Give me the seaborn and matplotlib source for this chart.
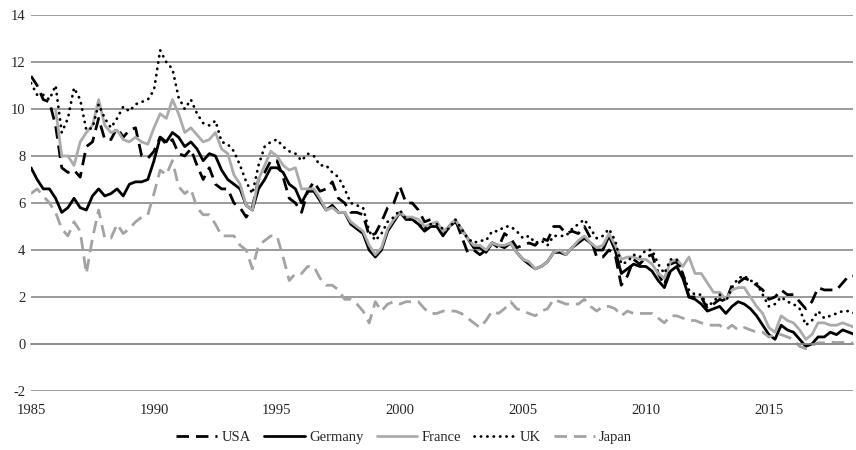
import numpy as np
import pandas as pd
import matplotlib
matplotlib.use("Agg")
import matplotlib.pyplot as plt
import seaborn as sns

# quarterly readings, 1985.0 .. 2018.5
years = np.arange(1985, 2018.51, 0.25)

usa = [11.4, 11.0, 10.4, 10.3,  9.3, 7.5, 7.3, 7.4,  7.1, 8.4, 8.6, 9.6,  8.7, 8.7, 9.2, 8.8,
       9.1, 9.2, 8.0, 7.9,  8.2, 8.8, 8.5, 8.7,  8.1, 8.0, 8.3, 7.6,  7.0, 7.5, 6.8, 6.6,
       6.6, 6.0, 5.8, 5.4,  5.8, 7.0, 7.3, 7.8,  7.8, 7.1, 6.2, 6.0,  5.6, 6.5, 6.9, 6.5,
       6.6, 6.9, 6.2, 6.0,  5.6, 5.6, 5.5, 4.6,  4.7, 5.2, 5.8, 6.0,  6.7, 6.0, 6.0, 5.7,
       5.2, 5.3, 5.2, 4.6,  5.0, 5.3, 4.6, 3.9,  4.0, 3.8, 4.0, 4.3,  4.1, 4.7, 4.5, 4.1,
       4.2, 4.3, 4.2, 4.5,  4.4, 5.0, 5.0, 4.7,  4.8, 4.7, 5.0, 4.5,  3.7, 3.7, 4.0, 3.8,
       2.5, 2.9, 3.6, 3.4,  3.7, 3.8, 3.0, 2.5,  3.4, 3.5, 3.0, 2.0,  2.0, 2.0, 1.5, 1.7,
       1.9, 1.8, 2.5, 2.6,  2.8, 2.7, 2.5, 2.3,  1.9, 2.0, 2.3, 2.1,  2.1, 1.8, 1.5, 1.8,
       2.4, 2.3, 2.3, 2.3,  2.6, 2.9, 2.9]

germany = [7.5, 7.0, 6.6, 6.6,  6.2, 5.6, 5.8, 6.2,  5.8, 5.7, 6.3, 6.6,  6.3, 6.4, 6.6, 6.3,
           6.8, 6.9, 6.9, 7.0,  7.8, 8.8, 8.6, 9.0,  8.8, 8.4, 8.6, 8.3,  7.8, 8.1, 8.0, 7.4,
           7.0, 6.8, 6.6, 5.9,  5.7, 6.6, 7.0, 7.5,  7.5, 7.3, 6.8, 6.6,  6.0, 6.5, 6.5, 6.1,
           5.7, 5.9, 5.6, 5.6,  5.1, 4.9, 4.7, 4.0,  3.7, 4.0, 4.8, 5.2,  5.6, 5.3, 5.3, 5.1,
           4.8, 5.0, 5.0, 4.6,  5.0, 5.2, 4.9, 4.5,  4.1, 4.1, 3.9, 4.3,  4.2, 4.1, 4.3, 3.9,
           3.6, 3.4, 3.2, 3.3,  3.5, 3.9, 3.9, 3.8,  4.1, 4.3, 4.5, 4.3,  4.0, 4.0, 4.6, 4.0,
           3.0, 3.2, 3.4, 3.3,  3.3, 3.1, 2.7, 2.4,  3.1, 3.3, 2.8, 2.0,  1.9, 1.7, 1.4, 1.5,
           1.6, 1.3, 1.6, 1.8,  1.7, 1.5, 1.2, 0.8,  0.4, 0.2, 0.8, 0.6,  0.5, 0.2, -0.1, 0.0,
           0.3, 0.3, 0.5, 0.4,  0.6, 0.5, 0.4]

france = [np.nan, np.nan, np.nan, np.nan,  10.0, 8.0, 8.0, 7.6,  8.6, 9.0, 9.3, 10.4,  9.3, 9.0, 9.1, 8.7,
          8.6, 8.8, 8.6, 8.5,  9.2, 9.8, 9.6, 10.4,  9.8, 9.0, 9.2, 8.9,  8.6, 8.7, 9.0, 8.3,
          8.1, 7.2, 6.8, 5.9,  5.7, 7.0, 7.6, 8.2,  8.0, 7.6, 7.4, 7.5,  6.6, 6.6, 6.6, 6.2,
          5.7, 5.8, 5.6, 5.6,  5.2, 5.0, 4.8, 4.2,  3.8, 4.1, 4.9, 5.3,  5.6, 5.4, 5.4, 5.3,
          5.0, 5.1, 5.2, 4.8,  5.0, 5.3, 4.9, 4.5,  4.2, 4.2, 4.0, 4.3,  4.2, 4.2, 4.3, 3.9,
          3.6, 3.5, 3.2, 3.3,  3.5, 3.9, 4.0, 3.8,  4.1, 4.4, 4.6, 4.3,  4.1, 4.2, 4.7, 4.2,
          3.6, 3.7, 3.7, 3.6,  3.6, 3.4, 3.0, 2.8,  3.5, 3.6, 3.3, 3.7,  3.0, 3.0, 2.6, 2.2,
          2.2, 1.9, 2.3, 2.4,  2.4, 2.0, 1.6, 1.3,  0.7, 0.5, 1.2, 1.0,  0.9, 0.6, 0.2, 0.4,
          0.9, 0.9, 0.8, 0.8,  0.9, 0.8, 0.7]

uk = [11.1, 10.6, 10.6, 10.4,  11.0, 9.0, 9.6, 10.9,  10.4, 9.1, 9.2, 10.2,  9.6, 9.2, 9.6, 10.1,
      9.9, 10.2, 10.3, 10.4,  10.8, 12.5, 12.0, 11.7,  10.5, 10.0, 10.4, 9.8,  9.4, 9.3, 9.5, 8.6,
      8.5, 8.2, 7.6, 6.9,  6.4, 7.6, 8.4, 8.6,  8.7, 8.4, 8.2, 8.1,  7.8, 8.1, 8.0, 7.6,
      7.6, 7.3, 7.1, 6.6,  6.0, 5.9, 5.8, 4.8,  4.4, 4.7, 5.2, 5.4,  5.7, 5.3, 5.3, 5.1,
      4.9, 5.1, 5.1, 4.9,  4.9, 5.3, 4.9, 4.5,  4.3, 4.4, 4.4, 4.8,  4.8, 5.0, 5.0, 4.8,
      4.5, 4.6, 4.3, 4.4,  4.2, 4.6, 4.6, 4.6,  4.9, 5.1, 5.3, 4.9,  4.5, 4.6, 4.9, 4.4,
      3.4, 3.5, 3.8, 3.7,  4.0, 4.0, 3.4, 3.0,  3.6, 3.6, 3.0, 2.3,  2.1, 2.1, 1.6, 1.8,
      2.1, 1.8, 2.4, 2.8,  2.9, 2.7, 2.6, 2.1,  1.6, 1.7, 2.0, 1.8,  1.7, 1.5, 0.8, 1.0,
      1.4, 1.1, 1.2, 1.3,  1.4, 1.4, 1.3]

japan = [6.4, 6.6, 6.3, 6.0,  5.6, 4.9, 4.6, 5.2,  4.8, 3.0, 4.5, 5.7,  4.5, 4.5, 5.1, 4.7,
         4.9, 5.2, 5.4, 5.5,  6.4, 7.4, 7.2, 7.8,  6.7, 6.4, 6.6, 5.8,  5.5, 5.5, 5.1, 4.6,
         4.6, 4.6, 4.2, 4.0,  3.2, 4.2, 4.4, 4.6,  4.6, 3.7, 2.7, 3.0,  3.0, 3.3, 3.3, 2.8,
         2.5, 2.5, 2.3, 1.9,  1.9, 1.7, 1.4, 0.9,  1.8, 1.4, 1.7, 1.8,  1.7, 1.8, 1.8, 1.8,
         1.5, 1.3, 1.3, 1.4,  1.4, 1.4, 1.3, 1.1,  0.9, 0.7, 1.0, 1.4,  1.3, 1.5, 1.8, 1.5,
         1.4, 1.3, 1.2, 1.4,  1.5, 1.9, 1.8, 1.7,  1.7, 1.7, 1.9, 1.6,  1.4, 1.6, 1.6, 1.5,
         1.2, 1.4, 1.3, 1.3,  1.3, 1.3, 1.1, 0.9,  1.2, 1.2, 1.1, 1.0,  1.0, 0.9, 0.8, 0.8,
         0.8, 0.6, 0.8, 0.6,  0.7, 0.6, 0.5, 0.5,  0.3, 0.4, 0.4, 0.3,  0.2, -0.1, -0.2, -0.05,
         0.05, 0.05, 0.08, 0.06,  0.07, 0.05, 0.04]

series = {"USA": usa, "Germany": germany, "France": france, "UK": uk, "Japan": japan}
styles = {
    "USA": dict(color="black", lw=2.0, linestyle=(0, (4.5, 2.5))),
    "Germany": dict(color="black", lw=2.0, linestyle="-"),
    "France": dict(color="#ababab", lw=2.0, linestyle="-"),
    "UK": dict(color="black", lw=2.0, linestyle=(0, (0.1, 2.2)), dash_capstyle="round"),
    "Japan": dict(color="#a3a3a3", lw=2.0, linestyle=(0, (4.5, 2.5))),
}

df = pd.DataFrame({"year": years, **series})

sns.set_style("white")
plt.rcParams["font.family"] = ["Liberation Serif", "DejaVu Serif"]
plt.rcParams["axes.unicode_minus"] = False

fig = plt.figure(figsize=(8.56, 4.5), dpi=100)
ax = fig.add_axes([31 / 856, 59 / 450, 822 / 856, 376 / 450])

for name in series:
    sns.lineplot(x="year", y=name, data=df, ax=ax, label=name,
                 estimator=None, sort=False, **styles[name])

ax.set_xlim(1985, 2018.42)
ax.set_ylim(-2, 14)
ax.set_yticks(range(-2, 15, 2))
ax.set_xticks(range(1985, 2016, 5))
ax.set_xlabel("")
ax.set_ylabel("")
ax.yaxis.grid(True, color="#8a8a8a", lw=1.2)
ax.set_axisbelow(True)

for s in ["top", "right", "left"]:
    ax.spines[s].set_visible(False)
ax.spines["bottom"].set_position(("data", 0))
ax.spines["bottom"].set_color("#8a8a8a")
ax.spines["bottom"].set_linewidth(1.2)

ax.tick_params(axis="x", direction="out", length=4, width=1, color="#8a8a8a",
               pad=39, labelsize=10.5)
ax.tick_params(axis="y", length=0, pad=4, labelsize=10.5)

ax.legend(ncol=5, frameon=False, fontsize=10.5, handlelength=2.8,
          handletextpad=0.3, columnspacing=0.9, loc="center",
          bbox_to_anchor=(404 / 856, 13 / 450), bbox_transform=fig.transFigure)

fig.savefig("out.png", dpi=100)
